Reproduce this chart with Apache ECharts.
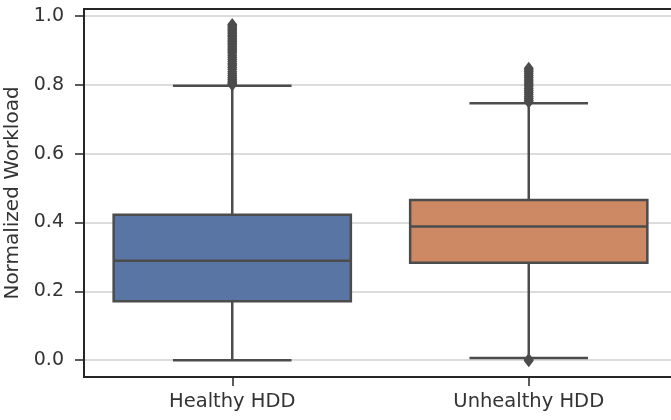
<!DOCTYPE html>
<html>
<head>
<meta charset="utf-8">
<script src="https://cdn.jsdelivr.net/npm/echarts@6/dist/echarts.min.js"></script>
<style>
  html, body { margin: 0; padding: 0; background: #fff; }
  #chart { width: 671px; height: 420px; }
</style>
</head>
<body>
<div id="chart"></div>
<script>
// categories and box statistics (low whisker, q1, median, q3, high whisker)
const categories = ['Healthy HDD', 'Unhealthy HDD'];
const healthyBox = [0.0, 0.171, 0.289, 0.422, 0.797];
const unhealthyBox = [0.006, 0.283, 0.388, 0.465, 0.746];
const healthyOutliers = [0.800, 0.803, 0.806, 0.810, 0.815, 0.820, 0.826, 0.832, 0.838, 0.845,
  0.851, 0.857, 0.862, 0.868, 0.874, 0.880, 0.886, 0.892, 0.897, 0.902, 0.907, 0.912, 0.917,
  0.921, 0.926, 0.930, 0.935, 0.940, 0.944, 0.949, 0.953, 0.958, 0.962, 0.967, 0.971, 0.975];
const unhealthyOutliers = [0.750, 0.755, 0.760, 0.766, 0.772, 0.778, 0.784, 0.790, 0.796, 0.802,
  0.808, 0.814, 0.820, 0.826, 0.832, 0.838, 0.843, 0.848, 0.002, -0.002];
const yTicks = [0, 0.2, 0.4, 0.6, 0.8, 1.0];

const boxColors = ['#5875a4', '#cc8963'];
const lineColor = '#4c4c4c';
const textColor = '#333';

const boxData = [[0].concat(healthyBox), [1].concat(unhealthyBox)];
const outlierData = healthyOutliers.map(v => [0, v]).concat(unhealthyOutliers.map(v => [1, v]));

const chart = echarts.init(document.getElementById('chart'), null, { renderer: 'canvas' });

function renderBox(params, api) {
  const idx = api.value(0);
  const band = api.size([1, 0])[0];
  const w = band * 0.8;
  const low = api.coord([idx, api.value(1)]);
  const q1 = api.coord([idx, api.value(2)]);
  const med = api.coord([idx, api.value(3)]);
  const q3 = api.coord([idx, api.value(4)]);
  const high = api.coord([idx, api.value(5)]);
  const cx = low[0];
  const lineStyle = { stroke: lineColor, lineWidth: 2.5 };
  return {
    type: 'group',
    children: [
      { type: 'line', shape: { x1: cx, y1: high[1], x2: cx, y2: q3[1] }, style: lineStyle },
      { type: 'line', shape: { x1: cx, y1: q1[1], x2: cx, y2: low[1] }, style: lineStyle },
      { type: 'line', shape: { x1: cx - w / 4, y1: high[1], x2: cx + w / 4, y2: high[1] }, style: lineStyle },
      { type: 'line', shape: { x1: cx - w / 4, y1: low[1], x2: cx + w / 4, y2: low[1] }, style: lineStyle },
      { type: 'rect', shape: { x: cx - w / 2, y: q3[1], width: w, height: q1[1] - q3[1] },
        style: { fill: boxColors[idx], stroke: lineColor, lineWidth: 2.5 } },
      { type: 'line', shape: { x1: cx - w / 2, y1: med[1], x2: cx + w / 2, y2: med[1] }, style: lineStyle }
    ]
  };
}

const option = {
  animation: false,
  grid: {
    left: 84, top: 9, right: -6, bottom: 43,
    outerBoundsMode: 'none',
    containLabel: false,
    show: true, borderColor: '#262626', borderWidth: 2, backgroundColor: 'transparent'
  },
  xAxis: {
    type: 'category',
    data: categories,
    boundaryGap: true,
    axisLine: { show: true, onZero: false, lineStyle: { color: '#262626', width: 2 } },
    axisTick: { show: true, alignWithLabel: true, length: 9, lineStyle: { color: '#262626', width: 1.5 } },
    axisLabel: { color: textColor, fontSize: 19.5, fontFamily: 'DejaVu Sans', margin: 15 },
    splitLine: { show: false }
  },
  yAxis: {
    type: 'value',
    min: -0.049,
    max: 1.02,
    name: 'Normalized Workload',
    nameLocation: 'middle',
    nameGap: 48,
    nameTextStyle: { color: textColor, fontSize: 20, fontFamily: 'DejaVu Sans' },
    axisLine: { show: true, lineStyle: { color: '#262626', width: 2 } },
    axisTick: { show: true, length: 9, customValues: yTicks, lineStyle: { color: '#262626', width: 1.5 } },
    axisLabel: {
      customValues: yTicks,
      color: textColor, fontSize: 19, fontFamily: 'DejaVu Sans', margin: 20,
      formatter: v => v.toFixed(1)
    },
    splitLine: { show: true, lineStyle: { color: '#d0d0d0', width: 1.5 } }
  },
  series: [
    {
      type: 'custom',
      renderItem: renderBox,
      encode: { x: 0, y: [1, 2, 3, 4, 5] },
      data: boxData,
      z: 2
    },
    {
      type: 'scatter',
      data: outlierData,
      symbol: 'diamond',
      symbolSize: [10, 13],
      itemStyle: { color: lineColor, opacity: 1 },
      z: 3
    }
  ]
};

chart.setOption(option);
</script>
</body>
</html>
